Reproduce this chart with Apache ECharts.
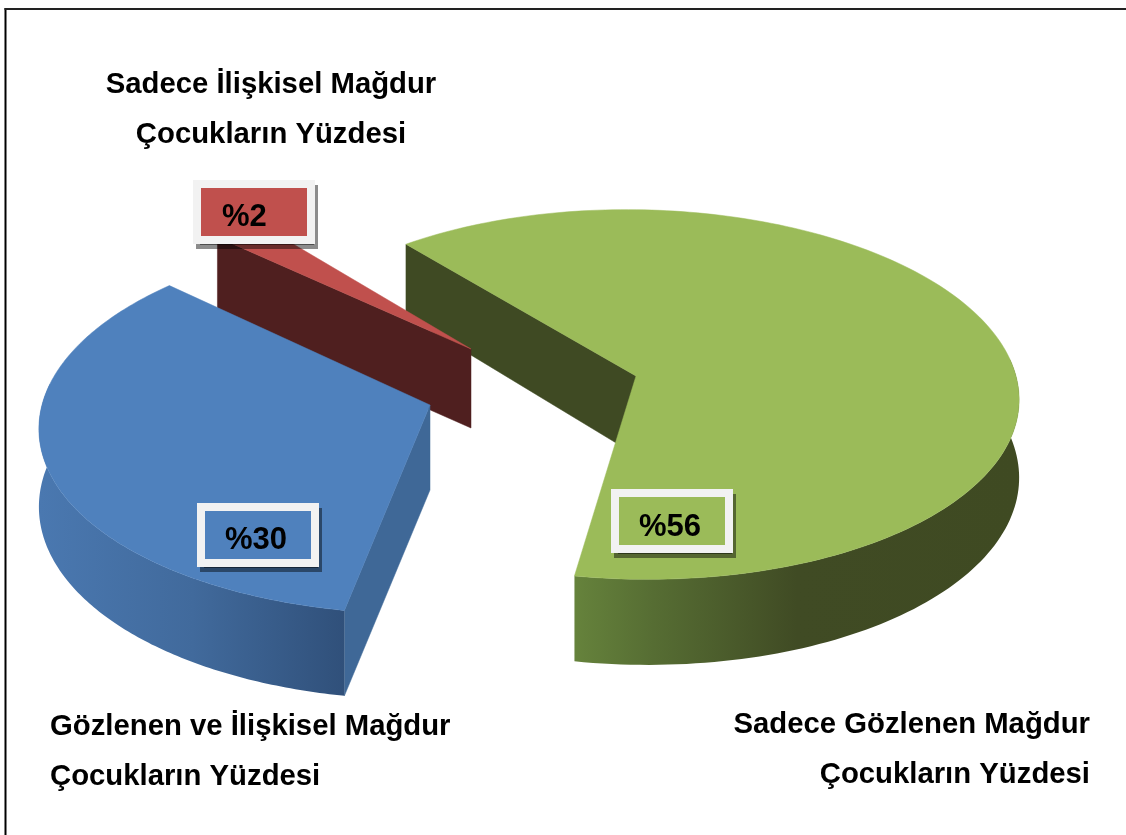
<!DOCTYPE html>
<html>
<head>
<meta charset="utf-8">
<style>html,body{margin:0;padding:0;background:#fff}#c{width:1126px;height:835px}</style>
<script src="https://cdn.jsdelivr.net/npm/echarts@6/dist/echarts.min.js"></script>
</head>
<body>
<div id="c"></div>
<script>
// ---- data (clockwise order) ----
var categoryNames = [
  ['Sadece Gözlenen Mağdur', 'Çocukların Yüzdesi'],
  ['Gözlenen ve İlişkisel Mağdur', 'Çocukların Yüzdesi'],
  ['Sadece İlişkisel Mağdur', 'Çocukların Yüzdesi']
];
var sliceValues = [56, 30, 2];
var valueLabels = ['%56', '%30', '%2'];

// ---- styling and layout of the 3D pie ----
var START_ANGLE = 230.9, PERSPECTIVE = 0.1, VIEW_X = 530, DEPTH = 77, FONT = 'Liberation Sans, Arial, sans-serif';
var sliceStyles = [
  { ax: 636, ay: 376, rx: 380, ry: 183, top: '#9bbb59', side: '#3f4a23', depth: 77, apexDepth: 79,
    wallStops: [[0, '#66833c'], [0.18, '#566d33'], [0.5, '#404b24'], [1, '#3f4a22']], wallX: [573, 1020] },
  { ax: 430, ay: 405, rx: 388, ry: 188, top: '#4f81bd', side: '#3f6897', depth: 77, apexDepth: 85,
    wallStops: [[0, '#4a78b0'], [0.5, '#416a9c'], [1, '#30507a']], wallX: [40, 345] },
  { ax: 471, ay: 349, rx: 374, ry: 176, top: '#c0504d', side: '#4f1f1f', depth: 84, apexDepth: 79,
    wallStops: null, wallX: null }
];
var boxes = [
  { x: 615, y: 493, w: 114, h: 56, tx: 639, ty: 527 },
  { x: 201, y: 507, w: 114, h: 56, tx: 225, ty: 540 },
  { x: 197, y: 184, w: 114, h: 56, tx: 222, ty: 217 }
];
var nameLayout = [
  { x: 1090, y: [725, 775], align: 'right' },
  { x: 50, y: [727, 777], align: 'left' },
  { x: 271, y: [85, 135], align: 'center' }
];
var drawOrder = [0, 2, 1];

var total = sliceValues.reduce(function (a, b) { return a + b; }, 0);
function sweep(i) {
  var a = START_ANGLE;
  for (var k = 0; k < i; k++) a += sliceValues[k] / total * 360;
  return [a, a + sliceValues[i] / total * 360];
}
function project(st, deg) {
  var t = deg * Math.PI / 180, c = Math.cos(t), s = Math.sin(t), w = 1 - PERSPECTIVE * s;
  return {
    x: VIEW_X + (st.ax - VIEW_X + st.rx * c) / w,
    y: st.ay + st.ry * s / w,
    d: st.depth / w,
    s: s
  };
}
function poly(points, fill, z) {
  return { type: 'polygon', shape: { points: points }, style: { fill: fill, stroke: fill, lineWidth: 0.5 }, z2: z };
}
function text(str, x, y, size, align) {
  return { type: 'text', z2: 50, style: { text: str, x: x, y: y, fill: '#000', font: 'bold ' + size + 'px ' + FONT,
    align: align, verticalAlign: 'middle', textAlign: align, textVerticalAlign: 'middle' } };
}
function renderItem(params, api) {
  var i = api.value(1), st = sliceStyles[i], range = sweep(i), arc = [];
  for (var a = range[0]; a <= range[1] + 1e-6; a += (range[1] - range[0]) / 180) arc.push(project(st, a));
  var first = arc[0], kids = [];
  // the cut face that looks towards the viewer
  kids.push(poly([[first.x, first.y], [st.ax, st.ay], [st.ax, st.ay + st.apexDepth], [first.x, first.y + first.d]], st.side, 1));
  // outer wall: only the part of the rim that faces the viewer
  if (st.wallStops) {
    var rim = arc.filter(function (p) { return p.s >= -0.12; });
    var wall = rim.map(function (p) { return [p.x, p.y]; });
    for (var j = rim.length - 1; j >= 0; j--) wall.push([rim[j].x, rim[j].y + rim[j].d]);
    var grad = { type: 'linear', global: true, x: st.wallX[0], y: 0, x2: st.wallX[1], y2: 0,
      colorStops: st.wallStops.map(function (s) { return { offset: s[0], color: s[1] }; }) };
    kids.push({ type: 'polygon', shape: { points: wall }, style: { fill: grad }, z2: 2 });
  }
  // top face
  var topFace = [[st.ax, st.ay]].concat(arc.map(function (p) { return [p.x, p.y]; }));
  kids.push(poly(topFace, st.top, 3));
  return { type: 'group', children: kids };
}
function renderLabels(params, api) {
  var i = api.value(1), b = boxes[i], st = sliceStyles[i], kids = [];
  kids.push({ type: 'rect', z2: 40, shape: { x: b.x, y: b.y, width: b.w, height: b.h },
    style: { fill: st.top, stroke: '#f2f2f2', lineWidth: 8, shadowColor: 'rgba(0,0,0,0.45)', shadowOffsetX: 3, shadowOffsetY: 5, shadowBlur: 0 } });
  kids.push({ type: 'rect', z2: 41, shape: { x: b.x, y: b.y, width: b.w, height: b.h },
    style: { fill: st.top, stroke: '#f2f2f2', lineWidth: 8 } });
  kids.push(text(valueLabels[i], b.tx, b.ty, 31, 'left'));
  var n = nameLayout[i];
  categoryNames[i].forEach(function (line, k) { kids.push(text(line, n.x, n.y[k], 29.3, n.align)); });
  return { type: 'group', children: kids };
}
var pieData = drawOrder.map(function (i) { return [sliceValues[i], i]; });
var chart = echarts.init(document.getElementById('c'), null, { renderer: 'canvas' });
chart.setOption({
  animation: false,
  backgroundColor: '#fff',
  series: [
    { type: 'custom', coordinateSystem: 'none', silent: true, z: 2, renderItem: renderItem, data: pieData },
    { type: 'custom', coordinateSystem: 'none', silent: true, z: 3, renderItem: renderLabels, data: pieData }
  ],
  graphic: [
    { type: 'line', z: 10, shape: { x1: 5.5, y1: 8, x2: 5.5, y2: 835 }, style: { stroke: '#000', lineWidth: 2 } },
    { type: 'line', z: 10, shape: { x1: 4.5, y1: 9, x2: 1126, y2: 9 }, style: { stroke: '#222', lineWidth: 2 } }
  ]
});
</script>
</body>
</html>
